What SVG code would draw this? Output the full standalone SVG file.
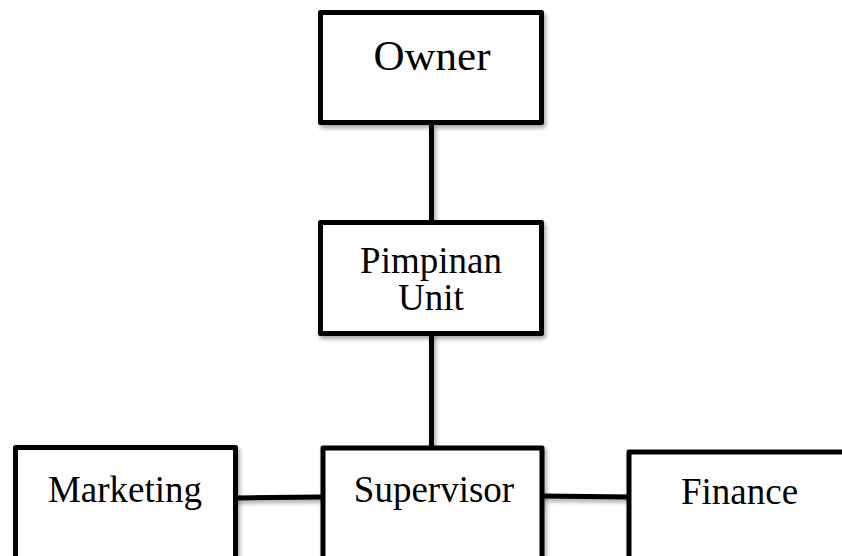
<svg xmlns="http://www.w3.org/2000/svg" width="842" height="556" viewBox="0 0 842 556">
<defs>
<filter id="sh" x="-10%" y="-10%" width="130%" height="130%">
<feGaussianBlur in="SourceAlpha" stdDeviation="2"/>
<feOffset dx="2" dy="3" result="b"/>
<feComponentTransfer><feFuncA type="linear" slope="0.35"/></feComponentTransfer>
<feMerge><feMergeNode/><feMergeNode in="SourceGraphic"/></feMerge>
</filter>
</defs>
<style>
.box{fill:#fff;stroke:#000;stroke-width:5;stroke-linejoin:round}
.t{font-family:"Liberation Serif","Times New Roman",serif;font-size:37px;fill:#000;text-anchor:middle}
.c{stroke:#000;stroke-width:5;fill:none}
</style>
<rect width="842" height="556" fill="#fff"/>
<g id="connectors" filter="url(#sh)">
<line class="c" x1="431.5" y1="124" x2="431.5" y2="222"/>
<line class="c" x1="431.5" y1="334" x2="431.5" y2="448"/>
<line class="c" x1="234" y1="498" x2="322" y2="497"/>
<line class="c" x1="542" y1="496" x2="629" y2="497"/>
</g>
<g id="owner">
<rect class="box" x="320.5" y="12.5" width="221" height="110" filter="url(#sh)"/>
<text class="t" x="432" y="70" style="font-size:43px">Owner</text>
</g>
<g id="pimpinan">
<rect class="box" x="320.5" y="222.5" width="221" height="111" filter="url(#sh)"/>
<text class="t" x="431" y="273">Pimpinan</text>
<text class="t" x="431" y="310">Unit</text>
</g>
<g id="marketing">
<rect class="box" x="15.5" y="447.5" width="220" height="130" filter="url(#sh)"/>
<text class="t" x="125" y="502">Marketing</text>
</g>
<g id="supervisor">
<rect class="box" x="323" y="448" width="219" height="130" filter="url(#sh)"/>
<text class="t" x="434" y="502">Supervisor</text>
</g>
<g id="finance">
<rect class="box" x="629" y="452" width="240" height="130" filter="url(#sh)"/>
<text class="t" x="739.5" y="504">Finance</text>
</g>
</svg>
